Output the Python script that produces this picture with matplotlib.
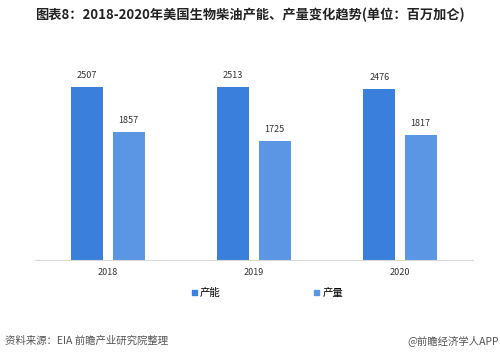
import numpy as np
import matplotlib.pyplot as plt
from matplotlib.patches import Patch

plt.rcParams['font.family'] = ['Noto Sans CJK SC', 'DejaVu Sans']

years = ['2018', '2019', '2020']
capacity = [2507, 2513, 2476]   # 产能
output = [1857, 1725, 1817]     # 产量

c_cap = '#3a7fdc'
c_out = '#5b96e4'

fig = plt.figure(figsize=(5, 3.57), dpi=100)
ax = fig.add_axes([0.07, 0.272, 0.876, 0.56])

x = np.arange(len(years))
w = 0.22
b1 = ax.bar(x - 0.142, capacity, w, color=c_cap)
b2 = ax.bar(x + 0.142, output, w, color=c_out)

for bars in (b1, b2):
    for r in bars:
        ax.annotate(str(int(r.get_height())), (r.get_x() + r.get_width() / 2, r.get_height()),
                    xytext=(0, 5), textcoords='offset points', ha='center', va='bottom',
                    fontsize=6.5, color='#333333')

ax.set_xlim(-0.5, 2.5)
ax.set_ylim(0, 2900)
ax.set_xticks(x)
ax.set_xticklabels(years, fontsize=6.5, color='#333333')
ax.tick_params(axis='x', length=0, pad=6)
ax.set_yticks([])
for s in ['top', 'right', 'left']:
    ax.spines[s].set_visible(False)
ax.spines['bottom'].set_color('#d9d9d9')

fig.text(0.5, 0.958, '图表8：2018-2020年美国生物柴油产能、产量变化趋势(单位：百万加仑)',
         ha='center', va='center', fontsize=9.5, fontweight='bold', color='#222222')

handles = [Patch(color=c_cap, label='产能'), Patch(color=c_out, label='产量')]
fig.legend(handles=handles, loc='center', bbox_to_anchor=(0.535, 0.179), ncol=2,
           frameon=False, fontsize=7.5, handlelength=0.45, handleheight=0.45,
           handletextpad=0.3, columnspacing=9)

fig.text(0.01, 0.047, '资料来源：EIA 前瞻产业研究院整理', ha='left', va='center',
         fontsize=7.5, color='#555555')
fig.text(0.998, 0.047, '@前瞻经济学人APP', ha='right', va='center',
         fontsize=7.5, color='#555555')

fig.savefig('out.png', dpi=100)
